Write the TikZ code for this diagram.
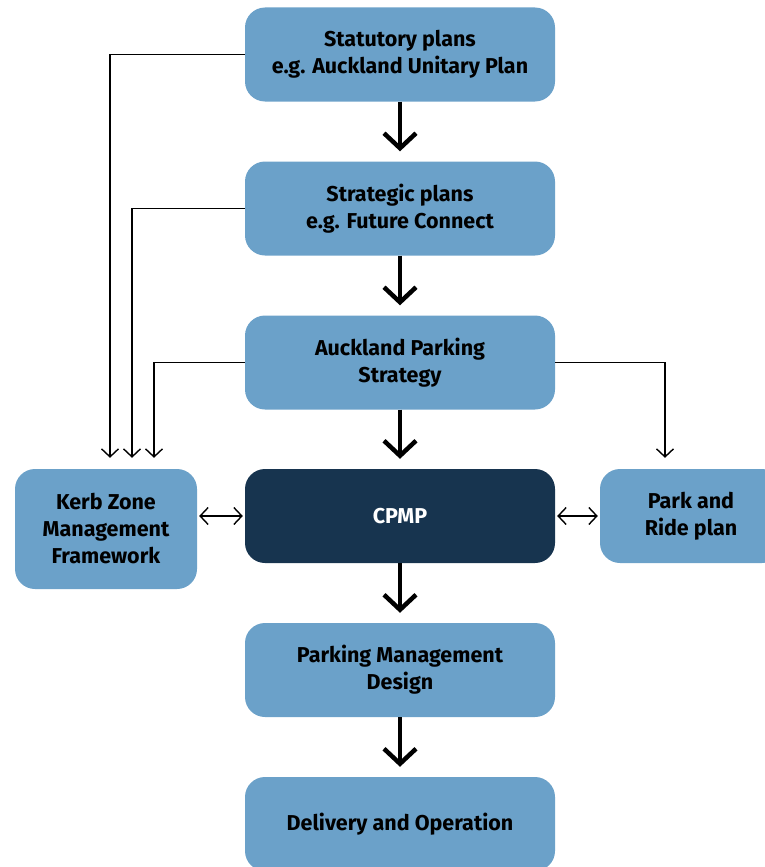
\documentclass[tikz,border=0pt]{standalone}
\usepackage{fontspec}
\setmainfont{Fira Sans}
\usetikzlibrary{arrows.meta}
\definecolor{planblue}{HTML}{6BA1C9}
\definecolor{plannavy}{HTML}{17344F}
\begin{document}
\begin{tikzpicture}[x=1pt,y=-1pt,
  planbox/.style={fill=planblue,rounded corners=20pt,align=center,inner sep=0pt,
    font=\fontsize{21.5}{27}\selectfont\bfseries},
  mainbox/.style={planbox,minimum width=310pt,minimum height=94pt},
  flow/.style={line width=4.5pt,-{Straight Barb[length=15pt,width=32pt,line width=4.5pt]},shorten >=10pt},
  feed/.style={line width=1.4pt,-{Straight Barb[length=8pt,width=17pt,line width=1.4pt]}},
  link/.style={line width=1.4pt,{Straight Barb[length=8pt,width=17pt,line width=1.4pt]}-{Straight Barb[length=8pt,width=17pt,line width=1.4pt]}}]
\useasboundingbox (0,0) rectangle (765,867);
% main column
\node[mainbox] (statutory) at (400,54.5) {Statutory plans\\e.g. Auckland Unitary Plan};
\node[mainbox] (strategic) at (400,208.5) {Strategic plans\\e.g. Future Connect};
\node[mainbox] (parking) at (400,362.5) {Auckland Parking\\Strategy};
\node[mainbox,fill=plannavy,text=white] (cpmp) at (400,516) {CPMP};
\node[mainbox] (design) at (400,670) {Parking Management\\Design};
\node[mainbox] (delivery) at (400,824) {Delivery and Operation};
% side boxes
\node[planbox,minimum width=182pt,minimum height=120pt] (kerb) at (106,529) {Kerb Zone\\Management\\Framework};
\node[planbox,minimum width=182pt,minimum height=94pt] (ride) at (691,516) {Park and\\Ride plan};
% flow down
\draw[flow] (statutory) -- (strategic);
\draw[flow] (strategic) -- (parking);
\draw[flow] (parking) -- (cpmp);
\draw[flow] (cpmp) -- (design);
\draw[flow] (design) -- (delivery);
% feeds to the side boxes
\draw[feed] (statutory.west) -| ([xshift=4pt,yshift=11pt]kerb.north);
\draw[feed] (strategic.west) -| ([xshift=26pt,yshift=11pt]kerb.north);
\draw[feed] (parking.west) -| ([xshift=48pt,yshift=11pt]kerb.north);
\draw[feed] (parking.east) -| ([xshift=-26pt,yshift=11pt]ride.north);
\draw[link] ([xshift=2pt]kerb.east |- cpmp) -- ([xshift=-2pt]cpmp.west);
\draw[link] ([xshift=2pt]cpmp.east) -- ([xshift=-2pt]ride.west);
\end{tikzpicture}
\end{document}
